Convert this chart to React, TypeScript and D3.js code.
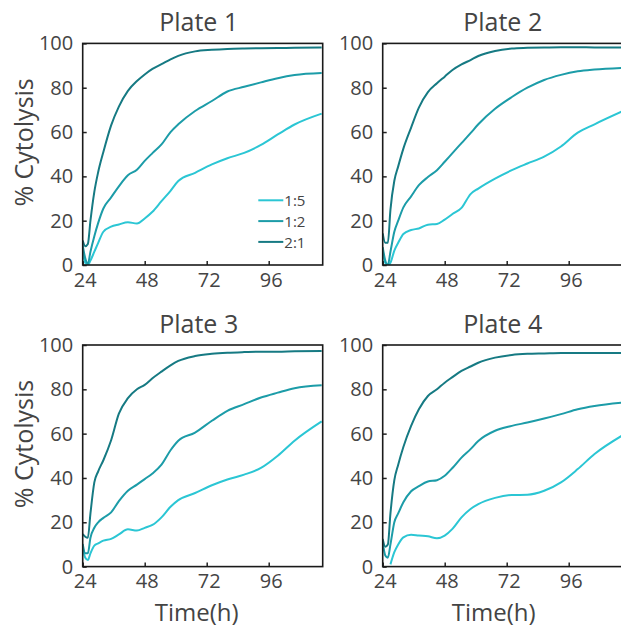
import * as d3 from 'd3'
import { useRef, useEffect } from 'react'

// time points (h)
const hours = [24, 25, 26, 27, 28.5, 30, 32, 35, 38, 41.5, 45, 48, 51, 54.5, 58, 61, 67.5, 74, 80, 86.5, 93, 99.5, 106, 116.5]

const ratios = ['1:5', '1:2', '2:1']
const colors = ['#2bc6d4', '#1c9ca8', '#167a83']
const plateNames = ['Plate 1', 'Plate 2', 'Plate 3', 'Plate 4']

// % cytolysis, one array per ratio
const plate1_15 = [6, 1, 0, 2, 6, 10, 15, 17.3, 18.3, 19.3, 18.7, 21, 24, 28.8, 33.5, 37.9, 41.6, 45.4, 48.2, 50.6, 54.2, 58.9, 63.4, 68.3]
const plate1_12 = [9, 3, 0.5, 6, 13, 19, 25.5, 30.5, 35.5, 40.5, 43, 47, 50.5, 54.4, 60, 63.5, 69.5, 74, 78.3, 80.4, 82.4, 84.3, 85.7, 86.6]
const plate1_21 = [11, 8.5, 9.5, 20, 33, 42, 51, 63, 71.5, 78.6, 83, 86, 88.5, 90.6, 92.8, 94.4, 96.4, 97.1, 97.5, 97.7, 97.8, 97.9, 98, 98.2]

const plate2_15 = [6.6, 1, 0, 1, 6.5, 10, 14, 15.8, 16.5, 18.2, 18.5, 20.5, 23, 25.8, 32, 34.5, 39, 42.8, 45.8, 48.9, 53.5, 59.7, 63.5, 69.2]
const plate2_12 = [8, 2, 0, 6, 15, 20, 26, 31, 36, 39.7, 42.8, 46.6, 50.5, 55, 59.5, 63.5, 70.5, 75.8, 80, 83.5, 85.8, 87.4, 88.2, 88.9]
const plate2_21 = [14.3, 10, 10, 25, 38, 44.5, 52.5, 62, 71, 78, 82, 85, 88, 90.5, 92.5, 94.3, 96.6, 97.7, 98, 98.2, 98.3, 98.3, 98.2, 98.2]

const plate3_15 = [8.7, 4, 3, 6, 9.5, 10.5, 11.7, 12.5, 14.5, 16.8, 16.3, 17.5, 18.8, 22.2, 27, 30, 33.2, 36.7, 39.3, 41.5, 44.5, 50, 56.8, 65.5]
const plate3_12 = [10.2, 6, 6, 13, 17.5, 20, 22, 24.5, 29.5, 34.2, 37, 39.5, 42, 46, 52.5, 56.8, 60.5, 65.8, 70.3, 73.3, 76.3, 78.5, 80.5, 81.8]
const plate3_21 = [14.7, 13.5, 13, 24, 38, 43, 48, 57, 69, 76, 80, 82, 85, 88, 90.8, 92.8, 95, 96, 96.5, 96.8, 97, 97, 97.2, 97.3]

const plate4_15 = [null, null, null, 1, 6.5, 10, 13.2, 14.4, 14, 13.7, 12.8, 14, 17, 22.2, 26, 28.2, 31, 32.3, 32.4, 34.2, 38, 44, 50.8, 59]
const plate4_12 = [11, 5, 4, 10, 20, 24, 29, 34, 36.3, 38.4, 39, 41, 44.5, 49.2, 53, 56.7, 61.3, 63.5, 65, 66.8, 68.8, 71, 72.5, 74]
const plate4_21 = [12.5, 9, 10, 24, 39, 46, 54, 63.5, 71, 77, 80, 83, 85.5, 88.3, 90.3, 92, 94.3, 95.5, 96, 96.2, 96.4, 96.4, 96.4, 96.4]

const plates = [
  [plate1_15, plate1_12, plate1_21],
  [plate2_15, plate2_12, plate2_21],
  [plate3_15, plate3_12, plate3_21],
  [plate4_15, plate4_12, plate4_21],
]

const xTicks = [24, 48, 72, 96]
const yTicks = [0, 20, 40, 60, 80, 100]

const width = 621
const height = 628
const panelW = 240
const panelH = 221.6
const lefts = [82.7, 382.7]
const tops = [43.4, 345]
const font = '"Open Sans", sans-serif'
const textColor = '#444'

const App = () => {
  const chartSvg = useRef(null)

  useEffect(() => {
    const svg = d3.select(chartSvg.current)
    svg.selectAll('*').remove() // clear

    const x = d3.scaleLinear().domain([24, 116.9]).range([0, panelW])
    const y = d3.scaleLinear().domain([0, 100]).range([panelH, 0])

    plates.forEach((series, i) => {
      const col = i % 2
      const row = Math.floor(i / 2)
      const g = svg
        .append('g')
        .attr('transform', `translate(${lefts[col]}, ${tops[row]})`)

      g.append('clipPath')
        .attr('id', `clip${i}`)
        .append('rect')
        .attr('width', panelW)
        .attr('height', panelH)

      // axes
      const xAxis = g
        .append('g')
        .attr('transform', `translate(0, ${panelH})`)
        .call(d3.axisBottom(x).tickValues(xTicks).tickSizeInner(-4).tickSizeOuter(0).tickPadding(7.5))
      const yAxis = g
        .append('g')
        .call(d3.axisLeft(y).tickValues(yTicks).tickSizeInner(-4).tickSizeOuter(0).tickPadding(9.5))

      for (const ax of [xAxis, yAxis]) {
        ax.select('.domain').remove()
        ax.selectAll('line').attr('stroke', '#222').attr('stroke-width', 1.5)
        ax.selectAll('text')
          .attr('font-family', font)
          .attr('font-size', 20)
          .attr('fill', textColor)
      }
      xAxis.selectAll('text').attr('dx', 2)

      // lines
      const line = d3
        .line<number | null>()
        .defined(d => d !== null)
        .x((d, j) => x(hours[j]))
        .y(d => y(d as number))
        .curve(d3.curveMonotoneX)

      g.append('g')
        .attr('clip-path', `url(#clip${i})`)
        .selectAll('path')
        .data(series)
        .enter()
        .append('path')
        .attr('d', d => line(d))
        .attr('fill', 'none')
        .attr('stroke', (d, j) => colors[j])
        .attr('stroke-width', 2)
        .attr('stroke-linejoin', 'round')

      // frame
      g.append('rect')
        .attr('width', panelW)
        .attr('height', panelH)
        .attr('fill', 'none')
        .attr('stroke', '#1a1a1a')
        .attr('stroke-width', 1.6)

      // title
      g.append('text')
        .attr('x', panelW / 2 - (col === 0 ? 4 : 0))
        .attr('y', -12)
        .attr('text-anchor', 'middle')
        .attr('font-family', font)
        .attr('font-size', 25)
        .attr('fill', textColor)
        .text(plateNames[i])

      if (col === 0) {
        g.append('text')
          .attr('transform', `translate(${23 - lefts[0]}, ${99}) rotate(-90)`)
          .attr('text-anchor', 'middle')
          .attr('dominant-baseline', 'central')
          .attr('font-family', font)
          .attr('font-size', 25)
          .attr('fill', textColor)
          .text('% Cytolysis')
      }

      if (row === 1) {
        g.append('text')
          .attr('x', panelW / 2 - (col === 0 ? 6 : 9))
          .attr('y', 620.5 - tops[1])
          .attr('text-anchor', 'middle')
          .attr('font-family', font)
          .attr('font-size', 24)
          .attr('fill', textColor)
          .text('Time(h)')
      }

      // legend on the first plate only
      if (i === 0) {
        const legend = g
          .append('g')
          .selectAll('g')
          .data(ratios)
          .enter()
          .append('g')
          .attr('transform', (d, j) => `translate(175.6, ${156.9 + j * 20.8})`)
        legend
          .append('line')
          .attr('x1', 0)
          .attr('x2', 25)
          .attr('stroke', (d, j) => colors[j])
          .attr('stroke-width', 2)
        legend
          .append('text')
          .attr('x', 26)
          .attr('dominant-baseline', 'central')
          .attr('font-family', font)
          .attr('font-size', 15)
          .attr('fill', textColor)
          .text(d => d)
      }
    })
  }, [])

  return (
    <svg
      ref={chartSvg}
      width={width}
      height={height}
      style={{ position: 'absolute', left: 0, top: 0, background: '#fff' }}
    ></svg>
  )
}

export default App
